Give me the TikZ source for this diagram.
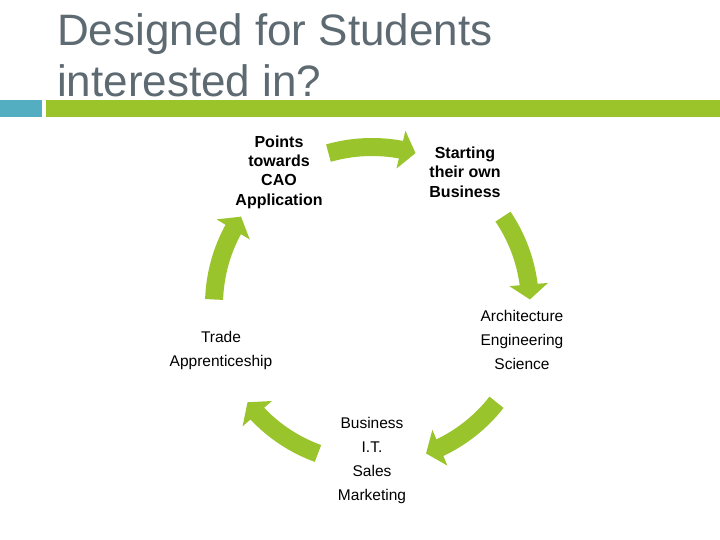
\documentclass[tikz,border=0pt]{standalone}
\usepackage{fontspec}
\setmainfont{Liberation Sans}
\usetikzlibrary{arrows.meta,calc,bending}

\definecolor{titlegrey}{RGB}{94,106,113}
\definecolor{barteal}{RGB}{84,174,193}
\definecolor{bargreen}{RGB}{154,196,42}
\definecolor{cyclegreen}{RGB}{154,196,44}

\begin{document}
\begin{tikzpicture}[x=1pt, y=1pt,
	title/.style={anchor=base west, inner sep=0pt, text=titlegrey,
		font=\fontsize{44}{51}\selectfont},
	bold/.style={align=center, inner sep=0pt,
		font=\bfseries\fontsize{16}{19.3}\selectfont},
	plain/.style={align=center, inner sep=0pt,
		font=\fontsize{15.5}{24}\selectfont},
	cyc/.style={draw=cyclegreen, line width=18pt,
		-{Triangle[width=38pt, length=15pt, flex]}}]
	\useasboundingbox[fill=white] (0,0) rectangle (720,540);

	% Draw the title and the bars under it
	\node[title] (title1) at (57,494) {Designed for Students};
	\node[title] (title2) at ([yshift=-51pt]title1.base west) {interested in?};
	\fill[barteal] (0,423) rectangle (42,440);
	\fill[bargreen] (46,423) rectangle (720,440);

	% Draw the items of the cycle
	\coordinate (hub) at (372,235);
	\node[bold] (cao) at (279,368) {Points\\towards\\CAO\\Application};
	\node[bold] (own) at (465,368) {Starting\\their own\\Business};
	\node[plain] (eng) at (522,200) {Architecture\\Engineering\\Science};
	\node[plain] (biz) at (372,80) {Business\\I.T.\\Sales\\Marketing};
	\node[plain] (trade) at (221,190) {Trade\\Apprenticeship};

	% Draw the arrows between the items
	\foreach \mid in {90, 18, -54, -126, 162}
		\draw[cyc] ($(hub)+(\mid+16:158)$) arc[start angle=\mid+16, end angle=\mid-16, radius=158];

\end{tikzpicture}
\end{document}
